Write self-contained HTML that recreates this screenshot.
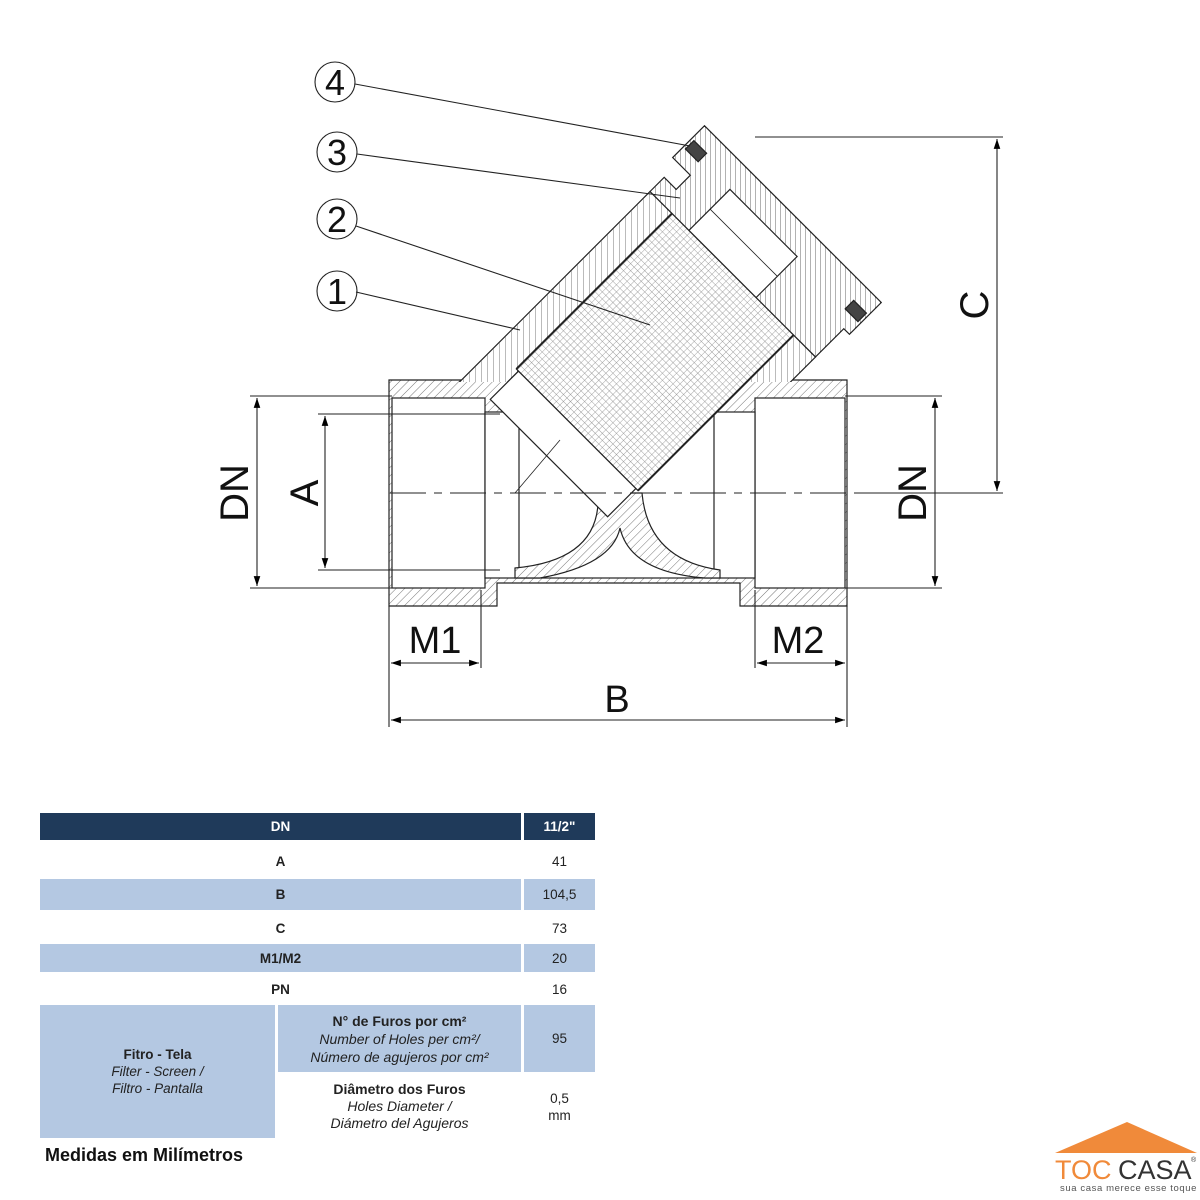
<!DOCTYPE html>
<html><head><meta charset="utf-8"><style>
body{margin:0;background:#fff;width:1200px;height:1200px;overflow:hidden;position:relative;font-family:"Liberation Sans",sans-serif}
.c{position:absolute;display:flex;align-items:center;justify-content:center;text-align:center;font-size:13.5px;color:#222;line-height:17px}
</style></head><body>
<svg width="1200" height="1200" style="position:absolute;left:0;top:0">
<defs>
<pattern id="h" width="6" height="6" patternUnits="userSpaceOnUse" patternTransform="rotate(45)"><rect width="6" height="6" fill="#fff"/><line x1="0" y1="0" x2="0" y2="6" stroke="#777" stroke-width="1"/></pattern>
<pattern id="hl" width="6" height="6" patternUnits="userSpaceOnUse" patternTransform="rotate(90)"><rect width="6" height="6" fill="#fff"/><line x1="0" y1="0" x2="0" y2="6" stroke="#777" stroke-width="1"/></pattern>
<pattern id="h2" width="5" height="5" patternUnits="userSpaceOnUse" patternTransform="rotate(45)"><rect width="5" height="5" fill="#fff"/><line x1="0" y1="0" x2="0" y2="5" stroke="#666" stroke-width="1"/></pattern>
<pattern id="m" width="5" height="5" patternUnits="userSpaceOnUse"><rect width="5" height="5" fill="#fff"/><path d="M0 0H5M0 0V5" stroke="#888" stroke-width="0.8"/></pattern>
<clipPath id="top"><rect x="0" y="0" width="1200" height="382"/></clipPath>
<marker id="ar" markerWidth="10" markerHeight="8" refX="9" refY="4" orient="auto-start-reverse"><path d="M0,1 L9,4 L0,7Z" fill="#000"/></marker>
</defs>
<g stroke="#222" stroke-width="1.2">
<!-- body -->
<path d="M389,380 H847 V606 H740 V583 H497 V606 H389 Z" fill="url(#h)"/>
<rect x="392" y="398" width="93" height="190" fill="#fff"/>
<rect x="755" y="398" width="90" height="190" fill="#fff"/>
<rect x="485" y="412" width="270" height="166" fill="#fff"/>
<line x1="519" y1="412" x2="519" y2="578"/><line x1="714" y1="412" x2="714" y2="578"/>
<path d="M598,493 Q602,560 515,568 L515,578 L540,578 Q612,565 620,528 Q630,572 705,578 L720,578 L720,570 Q648,560 642,493 Z" fill="url(#h)"/>
<!-- branch walls -->
<g clip-path="url(#top)">
<g transform="translate(655,352) rotate(-45)">
<rect x="-200" y="-117" width="310" height="34" fill="url(#h)"/>
<rect x="-200" y="83" width="310" height="34" fill="url(#h)"/>
</g></g>
<g transform="translate(655,352) rotate(-45)">
<rect x="-150" y="-83" width="40" height="166" fill="#fff"/>
<rect x="-110" y="-86" width="220" height="172" fill="url(#m)"/>
<line x1="-110" y1="-86" x2="110" y2="-86" stroke-width="2"/>
<line x1="-110" y1="86" x2="110" y2="86" stroke-width="2"/>
<path d="M110,-117 H130 V-100 H150 V-125 H195 V125 H150 V117 H110 V86 H110 V-86Z" fill="url(#h2)"/>
<rect x="110" y="-62" width="58" height="95" fill="#fff"/>
<line x1="140" y1="-62" x2="140" y2="33" stroke-width="0.8"/>
<rect x="165" y="-122" width="12" height="18" fill="#444"/>
<rect x="165" y="104" width="12" height="18" fill="#444"/>
</g>
<line x1="515" y1="493" x2="560" y2="440" stroke-width="0.8"/>
</g>
<!-- centre line -->
<line x1="390" y1="493" x2="862" y2="493" stroke="#222" stroke-dasharray="36,8,8,8" stroke-width="1"/>
<line x1="862" y1="493" x2="1003" y2="493" stroke="#222"/>
<!-- dimensions -->
<g stroke="#222" stroke-width="1.1" fill="none">
<line x1="250" y1="396" x2="392" y2="396"/><line x1="250" y1="588" x2="392" y2="588"/>
<line x1="257" y1="398" x2="257" y2="586" marker-start="url(#ar)" marker-end="url(#ar)"/>
<line x1="318" y1="414" x2="500" y2="414"/><line x1="318" y1="570" x2="500" y2="570"/>
<line x1="325" y1="416" x2="325" y2="568" marker-start="url(#ar)" marker-end="url(#ar)"/>
<line x1="845" y1="396" x2="942" y2="396"/><line x1="845" y1="588" x2="942" y2="588"/>
<line x1="935" y1="398" x2="935" y2="586" marker-start="url(#ar)" marker-end="url(#ar)"/>
<line x1="755" y1="137" x2="1003" y2="137"/>
<line x1="997" y1="139" x2="997" y2="491" marker-start="url(#ar)" marker-end="url(#ar)"/>
<line x1="389" y1="606" x2="389" y2="727"/><line x1="847" y1="606" x2="847" y2="727"/>
<line x1="481" y1="590" x2="481" y2="668"/><line x1="755" y1="590" x2="755" y2="668"/>
<line x1="391" y1="663" x2="479" y2="663" marker-start="url(#ar)" marker-end="url(#ar)"/>
<line x1="757" y1="663" x2="845" y2="663" marker-start="url(#ar)" marker-end="url(#ar)"/>
<line x1="391" y1="720" x2="845" y2="720" marker-start="url(#ar)" marker-end="url(#ar)"/>
<circle cx="335" cy="82" r="20"/><circle cx="337" cy="152" r="20"/><circle cx="337" cy="219" r="20"/><circle cx="337" cy="291" r="20"/>
<line x1="355" y1="84" x2="690" y2="146"/><line x1="357" y1="154" x2="680" y2="198"/>
<line x1="356" y1="226" x2="650" y2="325"/><line x1="356" y1="292" x2="520" y2="330"/>
</g>
<g font-family="Liberation Sans,sans-serif" fill="#111" text-anchor="middle">
<text x="335" y="95" font-size="36">4</text><text x="337" y="165" font-size="36">3</text>
<text x="337" y="232" font-size="36">2</text><text x="337" y="304" font-size="36">1</text>
<text transform="translate(248,493) rotate(-90)" font-size="40">DN</text>
<text transform="translate(318,493) rotate(-90)" font-size="40">A</text>
<text transform="translate(926,493) rotate(-90)" font-size="40">DN</text>
<text transform="translate(988,305) rotate(-90)" font-size="40">C</text>
<text x="435" y="653" font-size="38">M1</text><text x="798" y="653" font-size="38">M2</text>
<text x="617" y="712" font-size="38">B</text>
</g>
<rect x="40" y="813" width="481" height="27" fill="#1f3a5a"/><rect x="524" y="813" width="71" height="27" fill="#1f3a5a"/>
<rect x="40" y="879" width="481" height="31" fill="#b4c8e2"/><rect x="524" y="879" width="71" height="31" fill="#b4c8e2"/>
<rect x="40" y="944" width="481" height="28" fill="#b4c8e2"/><rect x="524" y="944" width="71" height="28" fill="#b4c8e2"/>
<rect x="40" y="1005" width="235" height="133" fill="#b4c8e2"/>
<rect x="278" y="1005" width="243" height="67" fill="#b4c8e2"/><rect x="524" y="1005" width="71" height="67" fill="#b4c8e2"/>
<path d="M1055,1153 L1127,1122 L1197,1153Z" fill="#f08a3a"/>
<text x="1055" y="1179" font-size="27" fill="#f08a3a" font-family="Liberation Sans,sans-serif">TOC</text>
<text x="1118" y="1179" font-size="27" fill="#333" font-family="Liberation Sans,sans-serif">CASA</text>
<text x="1191" y="1162" font-size="7" fill="#333">®</text>
<text x="1060" y="1191" font-size="9.5" fill="#555" font-family="Liberation Sans,sans-serif" letter-spacing="0.6">sua casa merece esse toque</text>
</svg>
<div class="c" style="left:40px;top:813px;width:481px;height:27px;color:#fff;font-weight:bold">DN</div>
<div class="c" style="left:524px;top:813px;width:71px;height:27px;color:#fff;font-weight:bold">11/2"</div>
<div class="c" style="left:40px;top:845px;width:481px;height:32px;font-weight:bold">A</div><div class="c" style="left:524px;top:845px;width:71px;height:32px">41</div>
<div class="c" style="left:40px;top:879px;width:481px;height:31px;font-weight:bold">B</div><div class="c" style="left:524px;top:879px;width:71px;height:31px">104,5</div>
<div class="c" style="left:40px;top:912px;width:481px;height:32px;font-weight:bold">C</div><div class="c" style="left:524px;top:912px;width:71px;height:32px">73</div>
<div class="c" style="left:40px;top:944px;width:481px;height:28px;font-weight:bold">M1/M2</div><div class="c" style="left:524px;top:944px;width:71px;height:28px">20</div>
<div class="c" style="left:40px;top:975px;width:481px;height:28px;font-weight:bold">PN</div><div class="c" style="left:524px;top:975px;width:71px;height:28px">16</div>
<div class="c" style="left:40px;top:1005px;width:235px;height:133px;flex-direction:column"><b>Fitro - Tela</b><i>Filter - Screen /</i><i>Filtro - Pantalla</i></div>
<div class="c" style="left:278px;top:1005px;width:243px;height:67px;flex-direction:column;font-size:14px;line-height:18px"><b>N° de Furos por cm²</b><i>Number of Holes per cm²/</i><i>Número de agujeros por cm²</i></div>
<div class="c" style="left:524px;top:1005px;width:71px;height:67px">95</div>
<div class="c" style="left:278px;top:1075px;width:243px;height:63px;flex-direction:column;font-size:14px;line-height:17px"><b>Diâmetro dos Furos</b><i>Holes Diameter /</i><i>Diámetro del Agujeros</i></div>
<div class="c" style="left:524px;top:1075px;width:71px;height:63px;flex-direction:column">0,5<br>mm</div>
<div style="position:absolute;left:45px;top:1145px;font-size:18px;font-weight:bold;color:#111">Medidas em Milímetros</div>
</body></html>
